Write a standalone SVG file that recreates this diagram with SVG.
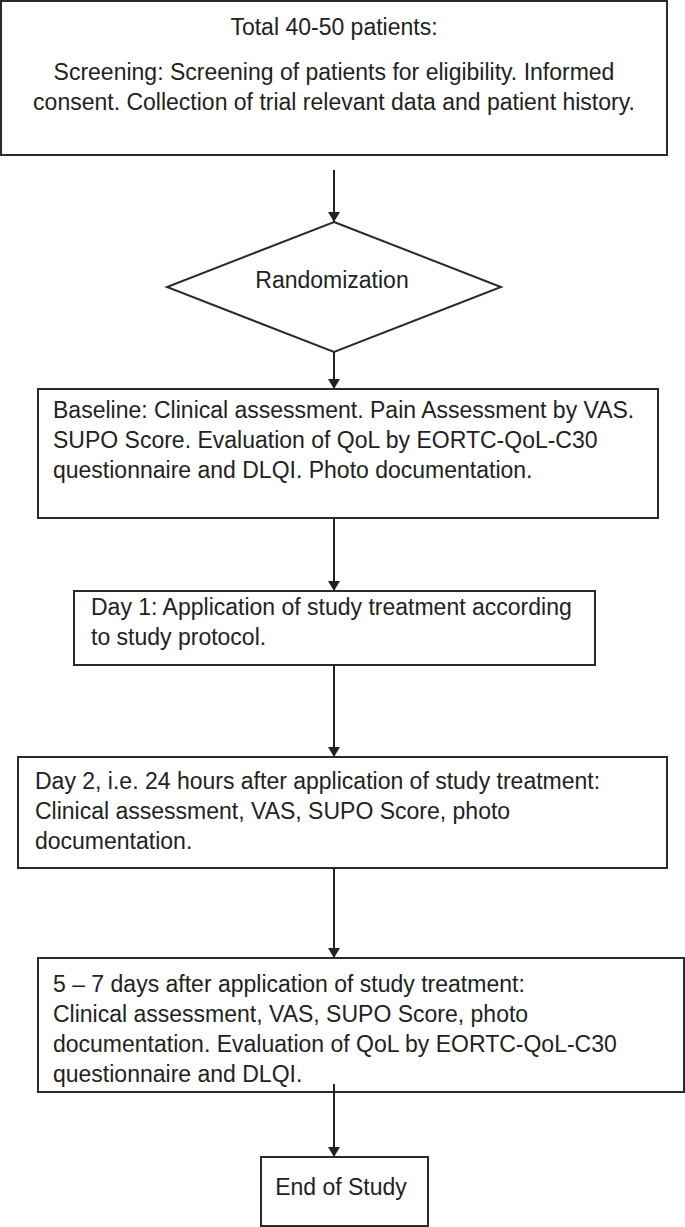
<svg xmlns="http://www.w3.org/2000/svg" width="685" height="1227" viewBox="0 0 685 1227">
<defs>
<style>
.box{fill:#fff;stroke:#2a2a2a;stroke-width:2}
.t{font-family:"Liberation Sans",Arial,sans-serif;font-size:23px;fill:#222}
.c{text-anchor:middle}
.ln{stroke:#222;stroke-width:2;fill:none}
</style>
<marker id="ah" viewBox="0 0 10 12" refX="10" refY="6" markerWidth="10" markerHeight="12" markerUnits="userSpaceOnUse" orient="auto">
<path d="M0,0 L10,6 L0,12 Z" fill="#222"/>
</marker>
</defs>
<rect width="685" height="1227" fill="#fff"/>
<g id="screening">
<rect class="box" x="1" y="1" width="666" height="154"/>
<text class="t c" x="334" y="35">Total 40-50 patients:</text>
<text class="t c" x="334" y="80">Screening: Screening of patients for eligibility. Informed</text>
<text class="t c" x="334" y="110">consent. Collection of trial relevant data and patient history.</text>
</g>
<g id="randomization">
<polygon class="box" points="334,222 501,287 334,352 167,287"/>
<text class="t c" x="332" y="288">Randomization</text>
</g>
<g id="baseline">
<rect class="box" x="38" y="389" width="620" height="129"/>
<text class="t" x="53" y="418">Baseline: Clinical assessment. Pain Assessment by VAS.</text>
<text class="t" x="53" y="448">SUPO Score. Evaluation of QoL by EORTC-QoL-C30</text>
<text class="t" x="53" y="478">questionnaire and DLQI. Photo documentation.</text>
</g>
<g id="day1">
<rect class="box" x="74" y="591" width="521" height="74"/>
<text class="t" x="91" y="615">Day 1: Application of study treatment according</text>
<text class="t" x="91" y="645">to study protocol.</text>
</g>
<g id="day2">
<rect class="box" x="18" y="757" width="649" height="111"/>
<text class="t" x="35" y="789">Day 2, i.e. 24 hours after application of study treatment:</text>
<text class="t" x="35" y="819">Clinical assessment, VAS, SUPO Score, photo</text>
<text class="t" x="35" y="849">documentation.</text>
</g>
<g id="day5to7">
<rect class="box" x="38" y="958" width="646" height="134"/>
<text class="t" x="53" y="992">5 – 7 days after application of study treatment:</text>
<text class="t" x="53" y="1022">Clinical assessment, VAS, SUPO Score, photo</text>
<text class="t" x="53" y="1052">documentation. Evaluation of QoL by EORTC-QoL-C30</text>
<text class="t" x="53" y="1082">questionnaire and DLQI.</text>
</g>
<g id="end">
<rect class="box" x="261" y="1157" width="167" height="69"/>
<text class="t c" x="341" y="1195">End of Study</text>
</g>
<g id="connectors">
<line class="ln" x1="334" y1="170" x2="334" y2="222" marker-end="url(#ah)"/>
<line class="ln" x1="334" y1="352" x2="334" y2="389" marker-end="url(#ah)"/>
<line class="ln" x1="334" y1="518" x2="334" y2="591" marker-end="url(#ah)"/>
<line class="ln" x1="334" y1="665" x2="334" y2="757" marker-end="url(#ah)"/>
<line class="ln" x1="334" y1="868" x2="334" y2="958" marker-end="url(#ah)"/>
<line class="ln" x1="334" y1="1084" x2="334" y2="1157" marker-end="url(#ah)"/>
</g>
</svg>
